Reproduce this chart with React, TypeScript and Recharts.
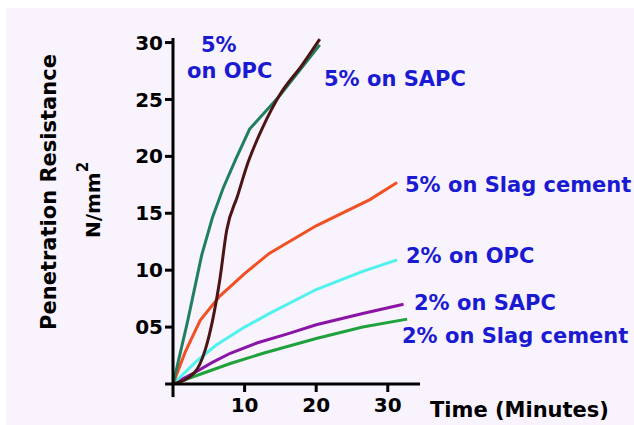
import React from 'react';
import { LineChart, Line, XAxis, YAxis, ReferenceLine, Customized } from 'recharts';

// Tick values / labels
const xTicks = [10, 20, 30];
const yTicks = [5, 10, 15, 20, 25, 30];
const yTickLabels: Record<number, string> = { 5: '05', 10: '10', 15: '15', 20: '20', 25: '25', 30: '30' };

// Series: time (minutes) vs penetration resistance (N/mm2)
const opc5 = [
  { t: 0, v: 0 }, { t: 2, v: 5.4 }, { t: 4, v: 11.3 }, { t: 5.5, v: 14.6 }, { t: 7, v: 17.2 },
  { t: 8.8, v: 19.8 }, { t: 10.7, v: 22.4 }, { t: 15, v: 25.4 }, { t: 20.5, v: 29.8 },
];
const sapc5 = [
  { t: 0, v: 0 }, { t: 3, v: 1 }, { t: 4.5, v: 3 }, { t: 5.5, v: 5.5 }, { t: 6.5, v: 9 },
  { t: 7.5, v: 13.5 }, { t: 9, v: 16.5 }, { t: 10.5, v: 19.5 }, { t: 12.5, v: 22.5 },
  { t: 15, v: 25.5 }, { t: 18, v: 28 }, { t: 20.5, v: 30.3 },
];
const slag5 = [
  { t: 0, v: 0 }, { t: 1.7, v: 2.8 }, { t: 3.8, v: 5.6 }, { t: 6.5, v: 7.7 }, { t: 10, v: 9.7 },
  { t: 13.5, v: 11.5 }, { t: 20, v: 13.9 }, { t: 27.5, v: 16.2 }, { t: 31.3, v: 17.7 },
];
const opc2 = [
  { t: 0, v: 0 }, { t: 3.3, v: 2 }, { t: 6, v: 3.4 }, { t: 10, v: 5 }, { t: 13.5, v: 6.2 },
  { t: 20, v: 8.3 }, { t: 26.5, v: 9.9 }, { t: 31.3, v: 10.9 },
];
const sapc2 = [
  { t: 0, v: 0 }, { t: 3.3, v: 1.1 }, { t: 5.5, v: 1.9 }, { t: 8, v: 2.7 }, { t: 11.7, v: 3.6 },
  { t: 16, v: 4.4 }, { t: 20, v: 5.2 }, { t: 26.5, v: 6.2 }, { t: 32.2, v: 7.0 },
];
const slag2 = [
  { t: 0, v: 0 }, { t: 4, v: 0.9 }, { t: 8, v: 1.8 }, { t: 12.6, v: 2.7 }, { t: 20, v: 4 },
  { t: 26.5, v: 5 }, { t: 32.7, v: 5.7 },
];

const FONT = '"DejaVu Sans", sans-serif';
const BLUE = '#1a1ad2';

const Annotations = () => (
  <g fontFamily={FONT} fontWeight="bold">
    <text x={201} y={52} fontSize={21} fill={BLUE}>5%</text>
    <text x={187} y={78} fontSize={21} fill={BLUE}>on OPC</text>
    <text x={324} y={86} fontSize={21} fill={BLUE}>5% on SAPC</text>
    <text x={405} y={192} fontSize={21} fill={BLUE}>5% on Slag cement</text>
    <text x={406} y={263} fontSize={21} fill={BLUE}>2% on OPC</text>
    <text x={414} y={310} fontSize={21} fill={BLUE}>2% on SAPC</text>
    <text x={402} y={343} fontSize={21} fill={BLUE}>2% on Slag cement</text>
    <text x={430} y={417} fontSize={21} fill="#000">Time (Minutes)</text>
    <text x={56} y={192} fontSize={21} fill="#000" textAnchor="middle" transform="rotate(-90, 56, 192)">
      Penetration Resistance
    </text>
    <text x={100} y={200} fontSize={20} fill="#000" textAnchor="middle" transform="rotate(-90, 100, 200)">
      N/mm<tspan dy={-12} fontSize={15}>2</tspan>
    </text>
  </g>
);

export default function App() {
  return (
    <div style={{ position: 'fixed', left: 0, top: 0, width: 634, height: 425, background: '#ffffff' }}>
      <div style={{ position: 'absolute', left: 6, top: 8, width: 628, height: 417, background: '#f8f3fc' }} />
      <div style={{ position: 'absolute', left: 0, top: 0 }}>
        <LineChart width={634} height={425} margin={{ top: 38, right: 214, bottom: 11, left: 113 }}>
          <XAxis
            type="number"
            dataKey="t"
            domain={[0, 34.5]}
            ticks={xTicks}
            allowDataOverflow
            height={30}
            axisLine={{ stroke: '#000', strokeWidth: 3 }}
            tickLine={{ stroke: '#000', strokeWidth: 3 }}
            tickSize={8}
            tickMargin={6}
            tick={{ fill: '#000', fontSize: 20, fontWeight: 'bold', fontFamily: FONT }}
          />
          <YAxis
            type="number"
            dataKey="v"
            domain={[0, 30.4]}
            ticks={yTicks}
            allowDataOverflow
            width={60}
            axisLine={{ stroke: '#000', strokeWidth: 3 }}
            tickLine={{ stroke: '#000', strokeWidth: 3 }}
            tickSize={8}
            tickMargin={2}
            tickFormatter={(v: number) => yTickLabels[v] ?? String(v)}
            tick={{ fill: '#000', fontSize: 20, fontWeight: 'bold', fontFamily: FONT }}
          />
          <ReferenceLine
            segment={[{ x: 0, y: -1.15 }, { x: 0, y: 0 }]}
            ifOverflow="visible"
            stroke="#000"
            strokeWidth={3}
          />
          <ReferenceLine
            segment={[{ x: -1.1, y: 0 }, { x: 0, y: 0 }]}
            ifOverflow="visible"
            stroke="#000"
            strokeWidth={3}
          />
          <Line data={slag2} dataKey="v" type="linear" stroke="#1fa23c" strokeWidth={3} dot={false} isAnimationActive={false} />
          <Line data={sapc2} dataKey="v" type="linear" stroke="#8a14a6" strokeWidth={3} dot={false} isAnimationActive={false} />
          <Line data={opc2} dataKey="v" type="linear" stroke="#4ff2ee" strokeWidth={3} dot={false} isAnimationActive={false} />
          <Line data={slag5} dataKey="v" type="linear" stroke="#f25022" strokeWidth={3} dot={false} isAnimationActive={false} />
          <Line data={opc5} dataKey="v" type="linear" stroke="#1f7f5f" strokeWidth={3} dot={false} isAnimationActive={false} />
          <Line data={sapc5} dataKey="v" type="monotone" stroke="#4d1414" strokeWidth={3} dot={false} isAnimationActive={false} />
          <Customized component={Annotations} />
        </LineChart>
      </div>
    </div>
  );
}
